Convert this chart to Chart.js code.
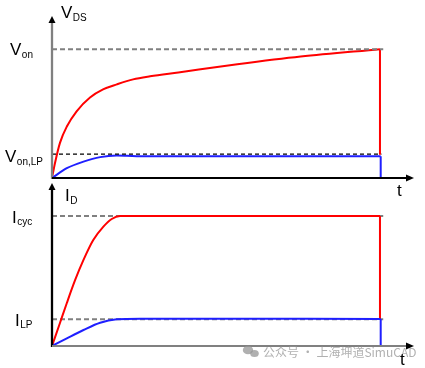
<!DOCTYPE html>
<html>
<head>
<meta charset="utf-8">
<script src="https://cdn.jsdelivr.net/npm/chart.js@4.4.1/dist/chart.umd.min.js"></script>
<style>
  html, body { margin: 0; padding: 0; background: #ffffff; }
  #wrap { position: relative; width: 425px; height: 368px; }
  canvas { position: absolute; left: 0; top: 0; }
</style>
</head>
<body>
<div id="wrap">
  <canvas id="bot" width="425" height="368"></canvas>
  <canvas id="top" width="425" height="368"></canvas>
</div>
<script>
// ---- data (time in % of the plotted window, values normalised to the reference levels) ----
const T_MAX = 100;
const T_OFF_RED = 90.6;
const T_OFF_BLUE = 90.8;
const T_DASH_END = 91.5;

const V_ON = 1.0;
const V_ON_LP = 0.185;
const I_CYC = 1.0;
const I_LP = 0.205;

// top panel: V_DS
const vdsRedT  = [0, 0.83, 2.2, 4.1, 6.8, 10.5, 14.1, 17.9, 22.4, 27.1, 34.9, 51.2, 68.7, 90.6];
const vdsRedV  = [0, 0.117, 0.273, 0.40, 0.518, 0.625, 0.688, 0.727, 0.766, 0.79, 0.82, 0.883, 0.943, 1.0];
const vdsRedDrop = [1.0, 0.18];
const vdsBlueT = [0, 4.1, 8.7, 13.3, 17.9, 20.7, 24.4, 90.8];
const vdsBlueV = [0, 0.076, 0.127, 0.162, 0.174, 0.172, 0.168, 0.168];
const vdsBlueDrop = [0.168, 0];

// bottom panel: I_D
const idRedT  = [0, 2.2, 4.1, 6.4, 8.7, 11.4, 14.2, 16.5, 18.8, 90.6];
const idRedV  = [0, 0.177, 0.331, 0.508, 0.662, 0.815, 0.918, 0.977, 1.0, 1.0];
const idRedDrop = [1.0, 0.2];
const idBlueT = [0, 4.1, 8.7, 13.3, 17.9, 24.4, 90.8];
const idBlueV = [0, 0.059, 0.123, 0.179, 0.205, 0.210, 0.208];
const idBlueDrop = [0.208, 0];

const Y_MAX_TOP = 1.258;
const Y_MAX_BOT = 1.254;

const RED = '#ff0000';
const BLUE = '#1f1fff';
const GRAY = '#808080';

function pts(xs, ys) { return xs.map((x, i) => ({ x: x, y: ys[i] })); }
function vline(x, ys) { return ys.map(y => ({ x: x, y: y })); }
function hline(y, x1) { return [{ x: 0, y: y }, { x: x1, y: y }]; }

function lineDs(data, color, width, extra) {
  return Object.assign({
    data: data, borderColor: color, borderWidth: width, pointRadius: 0,
    fill: false, tension: 0, clip: false
  }, extra || {});
}

const MAIN_FONT = '17px "Liberation Sans", Arial, sans-serif';
const SUB_FONT = '10px "Liberation Sans", Arial, sans-serif';

function drawSubLabel(ctx, x, yBase, main, sub, subDy) {
  ctx.fillStyle = '#000';
  ctx.textBaseline = 'alphabetic';
  ctx.textAlign = 'left';
  ctx.font = MAIN_FONT;
  ctx.fillText(main, x, yBase);
  const w = ctx.measureText(main).width;
  if (sub) {
    ctx.font = SUB_FONT;
    ctx.fillText(sub, x + w + 0.5, yBase + subDy);
  }
}

function drawAxes(ctx, area, yColor, xColor) {
  const L = area.left, B = area.bottom, T = area.top, R = area.right;
  ctx.save();
  ctx.lineCap = 'butt';
  // y axis
  ctx.strokeStyle = yColor; ctx.lineWidth = 2.3;
  ctx.beginPath(); ctx.moveTo(L, B + 1); ctx.lineTo(L, T + 6); ctx.stroke();
  ctx.fillStyle = '#000';
  ctx.beginPath(); ctx.moveTo(L, T); ctx.lineTo(L - 3.5, T + 7); ctx.lineTo(L + 3.5, T + 7); ctx.closePath(); ctx.fill();
  // x axis
  ctx.strokeStyle = xColor; ctx.lineWidth = 2;
  ctx.beginPath(); ctx.moveTo(L, B); ctx.lineTo(R - 6, B); ctx.stroke();
  ctx.beginPath(); ctx.moveTo(R, B); ctx.lineTo(R - 8, B - 3.5); ctx.lineTo(R - 8, B + 3.5); ctx.closePath(); ctx.fill();
  ctx.restore();
}

const topDecor = {
  id: 'topDecor',
  afterDatasetsDraw(chart) {
    const ctx = chart.ctx, a = chart.chartArea, ys = chart.scales.y;
    drawAxes(ctx, a, GRAY, '#000');
    ctx.save();
    drawSubLabel(ctx, a.left + 9, a.top + 2, 'V', 'DS', 2.5);
    const yOn = ys.getPixelForValue(V_ON);
    drawSubLabel(ctx, 10, yOn + 6, 'V', 'on', 3);
    const yLp = ys.getPixelForValue(V_ON_LP);
    drawSubLabel(ctx, 5, yLp + 7.5, 'V', 'on,LP', 3.5);
    ctx.font = MAIN_FONT; ctx.fillStyle = '#000';
    ctx.fillText('t', a.right - 17, a.bottom + 18);
    ctx.restore();
  }
};

const botDecor = {
  id: 'botDecor',
  afterDatasetsDraw(chart) {
    const ctx = chart.ctx, a = chart.chartArea, ys = chart.scales.y;
    drawAxes(ctx, a, '#000', GRAY);
    ctx.save();
    drawSubLabel(ctx, a.left + 13, a.top + 18, 'I', 'D', 2.5);
    const yC = ys.getPixelForValue(I_CYC);
    drawSubLabel(ctx, 12, yC + 6.5, 'I', 'cyc', 2.5);
    const yL = ys.getPixelForValue(I_LP);
    drawSubLabel(ctx, 15, yL + 6.5, 'I', 'LP', 2.5);
    // watermark
    ctx.fillStyle = 'rgba(150,150,150,0.75)';
    ctx.beginPath(); ctx.ellipse(248, 350, 5.2, 4.3, 0, 0, Math.PI * 2); ctx.fill();
    ctx.beginPath(); ctx.ellipse(254.5, 353.5, 4.3, 3.6, 0, 0, Math.PI * 2); ctx.fill();
    ctx.font = '12px "Noto Sans CJK SC", sans-serif';
    ctx.textBaseline = 'alphabetic';
    ctx.fillText('公众号 · 上海坤道SimuCAD', 263, 357);
    ctx.font = MAIN_FONT; ctx.fillStyle = '#000';
    ctx.fillText('t', a.right - 14, a.bottom + 19);
    ctx.restore();
  }
};

function baseOptions(padding, yMax) {
  return {
    responsive: false,
    animation: false,
    events: [],
    layout: { padding: padding },
    plugins: { legend: { display: false }, tooltip: { enabled: false } },
    scales: {
      x: { type: 'linear', min: 0, max: T_MAX, display: false },
      y: { type: 'linear', min: 0, max: yMax, display: false }
    }
  };
}

new Chart(document.getElementById('top'), {
  type: 'line',
  data: {
    datasets: [
      lineDs(hline(V_ON, T_DASH_END), GRAY, 2, { borderDash: [5, 3] }),
      lineDs(hline(V_ON_LP, T_DASH_END - 0.5), '#000', 1.3, { borderDash: [4, 3] }),
      lineDs(pts(vdsBlueT, vdsBlueV), BLUE, 2, { cubicInterpolationMode: 'monotone' }),
      lineDs(vline(T_OFF_BLUE, vdsBlueDrop), BLUE, 2),
      lineDs(pts(vdsRedT, vdsRedV), RED, 2, { cubicInterpolationMode: 'monotone' }),
      lineDs(vline(T_OFF_RED, vdsRedDrop), RED, 2)
    ]
  },
  options: baseOptions({ left: 52, right: 11, top: 16, bottom: 190 }, Y_MAX_TOP),
  plugins: [topDecor]
});

new Chart(document.getElementById('bot'), {
  type: 'line',
  data: {
    datasets: [
      lineDs(pts(idBlueT, idBlueV), BLUE, 2, { cubicInterpolationMode: 'monotone' }),
      lineDs(vline(T_OFF_BLUE, idBlueDrop), BLUE, 2),
      lineDs(pts(idRedT, idRedV), RED, 2, { cubicInterpolationMode: 'monotone' }),
      lineDs(vline(T_OFF_RED, idRedDrop), RED, 2),
      lineDs(hline(I_CYC, T_DASH_END), GRAY, 2, { borderDash: [5, 3] }),
      lineDs(hline(I_LP, T_DASH_END), GRAY, 2, { borderDash: [5, 3] })
    ]
  },
  options: baseOptions({ left: 52, right: 11, top: 183, bottom: 22 }, Y_MAX_BOT),
  plugins: [botDecor]
});
</script>
</body>
</html>
